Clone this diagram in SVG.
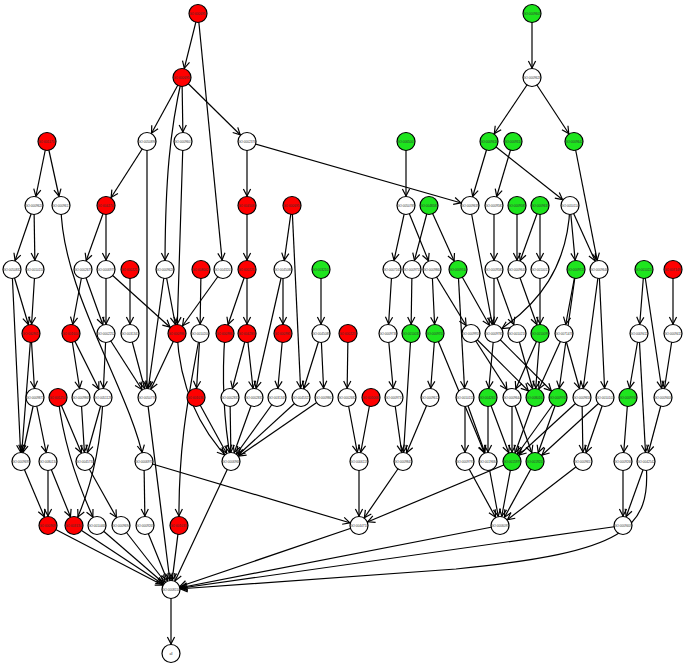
<svg xmlns="http://www.w3.org/2000/svg" width="685" height="667" viewBox="0 0 685 667">
<style>
.n circle{stroke:#000;stroke-width:1.2}
.w{fill:#fff}.r{fill:#f00}.g{fill:#1ee51e}
.n text{font-family:"Liberation Sans",Arial,sans-serif;font-size:3.1px;fill:#333;text-anchor:middle;dominant-baseline:central}
#edges path{fill:none;stroke:#000;stroke-width:1.2;marker-end:url(#a)}
</style>
<defs>
<marker id="a" markerUnits="userSpaceOnUse" markerWidth="10" markerHeight="10" refX="16.5" refY="0" orient="auto" overflow="visible">
<path d="M0,-3.6 L7,0 L0,3.6" fill="none" stroke="#000" stroke-width="1.2"/>
</marker>
</defs>
<rect width="685" height="667" fill="#fff"/>
<g id="edges">
<path d="M198,13.5 L182,77.5"/>
<path d="M198,13.5 L223,269.5"/>
<path d="M182,77.5 L147,141.5"/>
<path d="M182,77.5 L183,141.5"/>
<path d="M182,77.5 L247,141.5"/>
<path d="M182,77.5 C170,130 165,180 165,269.5"/>
<path d="M532,13.5 L532,77.5"/>
<path d="M532,77.5 L489,141.5"/>
<path d="M532,77.5 L574,141.5"/>
<path d="M47,141.5 L34,205.5"/>
<path d="M47,141.5 L61,205.5"/>
<path d="M147,141.5 L106,205.5"/>
<path d="M147,141.5 L147,397.5"/>
<path d="M183,141.5 L177,333.5"/>
<path d="M247,141.5 L247,205.5"/>
<path d="M247,141.5 L470,205.5"/>
<path d="M406,141.5 L406,205.5"/>
<path d="M489,141.5 L470,205.5"/>
<path d="M489,141.5 L570,205.5"/>
<path d="M513,141.5 L494,205.5"/>
<path d="M574,141.5 L599,269.5"/>
<path d="M34,205.5 L12,269.5"/>
<path d="M34,205.5 L35,269.5"/>
<path d="M61,205.5 C61,290 130,390 144,461.5"/>
<path d="M106,205.5 L83,269.5"/>
<path d="M106,205.5 L106,269.5"/>
<path d="M247,205.5 L247,269.5"/>
<path d="M292,205.5 L283,269.5"/>
<path d="M292,205.5 L301,397.5"/>
<path d="M406,205.5 L392,269.5"/>
<path d="M406,205.5 L432,269.5"/>
<path d="M429,205.5 L412,269.5"/>
<path d="M429,205.5 L458,269.5"/>
<path d="M470,205.5 L494,333.5"/>
<path d="M494,205.5 L494,269.5"/>
<path d="M517,205.5 L517,269.5"/>
<path d="M540,205.5 L517,269.5"/>
<path d="M540,205.5 L540,269.5"/>
<path d="M570,205.5 L576,269.5"/>
<path d="M570,205.5 L599,269.5"/>
<path d="M570,205.5 C568,265 540,305 494,333.5"/>
<path d="M12,269.5 L31,333.5"/>
<path d="M12,269.5 L21,461.5"/>
<path d="M35,269.5 L31,333.5"/>
<path d="M83,269.5 L71,333.5"/>
<path d="M83,269.5 L106,333.5"/>
<path d="M106,269.5 L106,333.5"/>
<path d="M106,269.5 L177,333.5"/>
<path d="M130,269.5 L130,333.5"/>
<path d="M165,269.5 L177,333.5"/>
<path d="M165,269.5 L147,397.5"/>
<path d="M201,269.5 L200,333.5"/>
<path d="M223,269.5 L177,333.5"/>
<path d="M247,269.5 L225,333.5"/>
<path d="M247,269.5 L247,333.5"/>
<path d="M283,269.5 L283,333.5"/>
<path d="M283,269.5 L254,397.5"/>
<path d="M321,269.5 L321,333.5"/>
<path d="M392,269.5 L388,333.5"/>
<path d="M412,269.5 L411,333.5"/>
<path d="M432,269.5 L435,333.5"/>
<path d="M432,269.5 L471,333.5"/>
<path d="M458,269.5 L494,333.5"/>
<path d="M458,269.5 L465,397.5"/>
<path d="M494,269.5 L494,333.5"/>
<path d="M494,269.5 L517,333.5"/>
<path d="M517,269.5 L540,333.5"/>
<path d="M540,269.5 L540,333.5"/>
<path d="M576,269.5 L564,333.5"/>
<path d="M576,269.5 L558,397.5"/>
<path d="M599,269.5 L582,397.5"/>
<path d="M599,269.5 L605,397.5"/>
<path d="M644,269.5 L639,333.5"/>
<path d="M644,269.5 L663,397.5"/>
<path d="M673,269.5 L673,333.5"/>
<path d="M31,333.5 L35,397.5"/>
<path d="M31,333.5 L21,461.5"/>
<path d="M71,333.5 L81,397.5"/>
<path d="M71,333.5 L103,397.5"/>
<path d="M106,333.5 L103,397.5"/>
<path d="M106,333.5 L147,397.5"/>
<path d="M130,333.5 L147,397.5"/>
<path d="M177,333.5 L147,397.5"/>
<path d="M177,333.5 C180,390 200,430 231,461.5"/>
<path d="M200,333.5 L196,397.5"/>
<path d="M200,333.5 C190,390 178,440 179,525.5"/>
<path d="M225,333.5 Q220,400 231,461.5"/>
<path d="M247,333.5 L230,397.5"/>
<path d="M247,333.5 L254,397.5"/>
<path d="M283,333.5 L277,397.5"/>
<path d="M321,333.5 L301,397.5"/>
<path d="M321,333.5 L324,397.5"/>
<path d="M348,333.5 L347,397.5"/>
<path d="M388,333.5 L394,397.5"/>
<path d="M411,333.5 L403,461.5"/>
<path d="M435,333.5 L430,397.5"/>
<path d="M435,333.5 L488,461.5"/>
<path d="M471,333.5 L512,397.5"/>
<path d="M471,333.5 L535,397.5"/>
<path d="M494,333.5 L488,397.5"/>
<path d="M494,333.5 L558,397.5"/>
<path d="M517,333.5 L535,397.5"/>
<path d="M540,333.5 L512,397.5"/>
<path d="M540,333.5 L535,397.5"/>
<path d="M564,333.5 L535,397.5"/>
<path d="M564,333.5 L582,397.5"/>
<path d="M639,333.5 L628,397.5"/>
<path d="M639,333.5 L646,461.5"/>
<path d="M673,333.5 L663,397.5"/>
<path d="M35,397.5 L21,461.5"/>
<path d="M35,397.5 L48,461.5"/>
<path d="M58,397.5 L85,461.5"/>
<path d="M58,397.5 Q66,462 97,525.5"/>
<path d="M81,397.5 L85,461.5"/>
<path d="M103,397.5 L85,461.5"/>
<path d="M103,397.5 Q100,470 74,525.5"/>
<path d="M147,397.5 L171,589.5"/>
<path d="M196,397.5 L231,461.5"/>
<path d="M230,397.5 L231,461.5"/>
<path d="M254,397.5 L231,461.5"/>
<path d="M277,397.5 L231,461.5"/>
<path d="M301,397.5 L231,461.5"/>
<path d="M324,397.5 L231,461.5"/>
<path d="M347,397.5 L359,461.5"/>
<path d="M371,397.5 L359,461.5"/>
<path d="M394,397.5 L403,461.5"/>
<path d="M430,397.5 L403,461.5"/>
<path d="M465,397.5 L465,461.5"/>
<path d="M465,397.5 L488,461.5"/>
<path d="M488,397.5 L488,461.5"/>
<path d="M488,397.5 L512,461.5"/>
<path d="M512,397.5 L512,461.5"/>
<path d="M512,397.5 L535,461.5"/>
<path d="M535,397.5 L512,461.5"/>
<path d="M558,397.5 L512,461.5"/>
<path d="M558,397.5 L535,461.5"/>
<path d="M582,397.5 L583,461.5"/>
<path d="M582,397.5 L512,461.5"/>
<path d="M605,397.5 L583,461.5"/>
<path d="M605,397.5 L535,461.5"/>
<path d="M628,397.5 L623,461.5"/>
<path d="M663,397.5 L646,461.5"/>
<path d="M21,461.5 L48,525.5"/>
<path d="M48,461.5 L48,525.5"/>
<path d="M48,461.5 L74,525.5"/>
<path d="M85,461.5 L121,525.5"/>
<path d="M144,461.5 L145,525.5"/>
<path d="M144,461.5 L359,525.5"/>
<path d="M231,461.5 L171,589.5"/>
<path d="M359,461.5 L359,525.5"/>
<path d="M403,461.5 L359,525.5"/>
<path d="M465,461.5 L500,525.5"/>
<path d="M488,461.5 L500,525.5"/>
<path d="M512,461.5 L500,525.5"/>
<path d="M535,461.5 L500,525.5"/>
<path d="M583,461.5 L500,525.5"/>
<path d="M512,461.5 L359,525.5"/>
<path d="M623,461.5 L623,525.5"/>
<path d="M646,461.5 L623,525.5"/>
<path d="M646,461.5 C652,530 625,552 456,569 L171,589.5"/>
<path d="M48,525.5 L171,589.5"/>
<path d="M74,525.5 L171,589.5"/>
<path d="M97,525.5 L171,589.5"/>
<path d="M121,525.5 L171,589.5"/>
<path d="M145,525.5 L171,589.5"/>
<path d="M179,525.5 L171,589.5"/>
<path d="M359,525.5 L171,589.5"/>
<path d="M500,525.5 L171,589.5"/>
<path d="M623,525.5 L171,589.5"/>
<path d="M171,589.5 L171,653.5"/>
</g>
<g id="A1" class="n"><circle class="r" cx="198" cy="13.5" r="9"/><text x="198" y="13.5">GO:0006952</text></g>
<g id="A2" class="n"><circle class="g" cx="532" cy="13.5" r="9"/><text x="532" y="13.5">GO:0009605</text></g>
<g id="B1" class="n"><circle class="r" cx="182" cy="77.5" r="9"/><text x="182" y="77.5">GO:0006950</text></g>
<g id="B2" class="n"><circle class="w" cx="532" cy="77.5" r="9"/><text x="532" y="77.5">GO:0009628</text></g>
<g id="C1" class="n"><circle class="r" cx="47" cy="141.5" r="9"/><text x="47" y="141.5">GO:0051707</text></g>
<g id="C2" class="n"><circle class="w" cx="147" cy="141.5" r="9"/><text x="147" y="141.5">GO:0050896</text></g>
<g id="C3" class="n"><circle class="w" cx="183" cy="141.5" r="9"/><text x="183" y="141.5">GO:0009607</text></g>
<g id="C4" class="n"><circle class="w" cx="247" cy="141.5" r="9"/><text x="247" y="141.5">GO:0002376</text></g>
<g id="C5" class="n"><circle class="g" cx="406" cy="141.5" r="9"/><text x="406" y="141.5">GO:0065007</text></g>
<g id="C6" class="n"><circle class="g" cx="489" cy="141.5" r="9"/><text x="489" y="141.5">GO:0009416</text></g>
<g id="C7" class="n"><circle class="g" cx="513" cy="141.5" r="9"/><text x="513" y="141.5">GO:0009314</text></g>
<g id="C8" class="n"><circle class="g" cx="574" cy="141.5" r="9"/><text x="574" y="141.5">GO:0009642</text></g>
<g id="D1" class="n"><circle class="w" cx="34" cy="205.5" r="9"/><text x="34" y="205.5">GO:0009620</text></g>
<g id="D2" class="n"><circle class="w" cx="61" cy="205.5" r="9"/><text x="61" y="205.5">GO:0009617</text></g>
<g id="D3" class="n"><circle class="r" cx="106" cy="205.5" r="9"/><text x="106" y="205.5">GO:0042742</text></g>
<g id="D4" class="n"><circle class="r" cx="247" cy="205.5" r="9"/><text x="247" y="205.5">GO:0045087</text></g>
<g id="D5" class="n"><circle class="r" cx="292" cy="205.5" r="9"/><text x="292" y="205.5">GO:0006955</text></g>
<g id="D6" class="n"><circle class="w" cx="406" cy="205.5" r="9"/><text x="406" y="205.5">GO:0050789</text></g>
<g id="D7" class="n"><circle class="g" cx="429" cy="205.5" r="9"/><text x="429" y="205.5">GO:0048583</text></g>
<g id="D8" class="n"><circle class="w" cx="470" cy="205.5" r="9"/><text x="470" y="205.5">GO:0009639</text></g>
<g id="D9" class="n"><circle class="w" cx="494" cy="205.5" r="9"/><text x="494" y="205.5">GO:0009581</text></g>
<g id="D10" class="n"><circle class="g" cx="517" cy="205.5" r="9"/><text x="517" y="205.5">GO:0009585</text></g>
<g id="D11" class="n"><circle class="g" cx="540" cy="205.5" r="9"/><text x="540" y="205.5">GO:0009637</text></g>
<g id="D12" class="n"><circle class="w" cx="570" cy="205.5" r="9"/><text x="570" y="205.5">GO:0010114</text></g>
<g id="E1" class="n"><circle class="w" cx="12" cy="269.5" r="9"/><text x="12" y="269.5">GO:0050832</text></g>
<g id="E2" class="n"><circle class="w" cx="35" cy="269.5" r="9"/><text x="35" y="269.5">GO:0010150</text></g>
<g id="E3" class="n"><circle class="w" cx="83" cy="269.5" r="9"/><text x="83" y="269.5">GO:0002679</text></g>
<g id="E4" class="n"><circle class="w" cx="106" cy="269.5" r="9"/><text x="106" y="269.5">GO:0006979</text></g>
<g id="E5" class="n"><circle class="r" cx="130" cy="269.5" r="9"/><text x="130" y="269.5">GO:0002213</text></g>
<g id="E6" class="n"><circle class="w" cx="165" cy="269.5" r="9"/><text x="165" y="269.5">GO:0009626</text></g>
<g id="E7" class="n"><circle class="r" cx="201" cy="269.5" r="9"/><text x="201" y="269.5">GO:0080027</text></g>
<g id="E8" class="n"><circle class="w" cx="223" cy="269.5" r="9"/><text x="223" y="269.5">GO:0043207</text></g>
<g id="E9" class="n"><circle class="r" cx="247" cy="269.5" r="9"/><text x="247" y="269.5">GO:0002218</text></g>
<g id="E10" class="n"><circle class="w" cx="283" cy="269.5" r="9"/><text x="283" y="269.5">GO:0045088</text></g>
<g id="E11" class="n"><circle class="g" cx="321" cy="269.5" r="9"/><text x="321" y="269.5">GO:0032101</text></g>
<g id="E12" class="n"><circle class="w" cx="392" cy="269.5" r="9"/><text x="392" y="269.5">GO:0007165</text></g>
<g id="E13" class="n"><circle class="w" cx="412" cy="269.5" r="9"/><text x="412" y="269.5">GO:0009755</text></g>
<g id="E14" class="n"><circle class="w" cx="432" cy="269.5" r="9"/><text x="432" y="269.5">GO:0009860</text></g>
<g id="E15" class="n"><circle class="g" cx="458" cy="269.5" r="9"/><text x="458" y="269.5">GO:0009744</text></g>
<g id="E16" class="n"><circle class="w" cx="494" cy="269.5" r="9"/><text x="494" y="269.5">GO:0009583</text></g>
<g id="E17" class="n"><circle class="w" cx="517" cy="269.5" r="9"/><text x="517" y="269.5">GO:0009640</text></g>
<g id="E18" class="n"><circle class="w" cx="540" cy="269.5" r="9"/><text x="540" y="269.5">GO:0010017</text></g>
<g id="E19" class="n"><circle class="g" cx="576" cy="269.5" r="9"/><text x="576" y="269.5">GO:0009725</text></g>
<g id="E20" class="n"><circle class="w" cx="599" cy="269.5" r="9"/><text x="599" y="269.5">GO:0009646</text></g>
<g id="E21" class="n"><circle class="g" cx="644" cy="269.5" r="9"/><text x="644" y="269.5">GO:0010224</text></g>
<g id="E22" class="n"><circle class="r" cx="673" cy="269.5" r="9"/><text x="673" y="269.5">GO:0071491</text></g>
<g id="F1" class="n"><circle class="r" cx="31" cy="333.5" r="9"/><text x="31" y="333.5">GO:0009611</text></g>
<g id="F2" class="n"><circle class="r" cx="71" cy="333.5" r="9"/><text x="71" y="333.5">GO:0016045</text></g>
<g id="F3" class="n"><circle class="w" cx="106" cy="333.5" r="9"/><text x="106" y="333.5">GO:0002252</text></g>
<g id="F4" class="n"><circle class="w" cx="130" cy="333.5" r="9"/><text x="130" y="333.5">GO:0031347</text></g>
<g id="F5" class="n"><circle class="r" cx="177" cy="333.5" r="9"/><text x="177" y="333.5">GO:0009862</text></g>
<g id="F6" class="n"><circle class="w" cx="200" cy="333.5" r="9"/><text x="200" y="333.5">GO:0010200</text></g>
<g id="F7" class="n"><circle class="r" cx="225" cy="333.5" r="9"/><text x="225" y="333.5">GO:0009863</text></g>
<g id="F8" class="n"><circle class="r" cx="247" cy="333.5" r="9"/><text x="247" y="333.5">GO:0042830</text></g>
<g id="F9" class="n"><circle class="r" cx="283" cy="333.5" r="9"/><text x="283" y="333.5">GO:0009816</text></g>
<g id="F10" class="n"><circle class="w" cx="321" cy="333.5" r="9"/><text x="321" y="333.5">GO:0045089</text></g>
<g id="F11" class="n"><circle class="r" cx="348" cy="333.5" r="9"/><text x="348" y="333.5">GO:0002237</text></g>
<g id="F12" class="n"><circle class="w" cx="388" cy="333.5" r="9"/><text x="388" y="333.5">GO:0009738</text></g>
<g id="F13" class="n"><circle class="g" cx="411" cy="333.5" r="9"/><text x="411" y="333.5">GO:0010033</text></g>
<g id="F14" class="n"><circle class="g" cx="435" cy="333.5" r="9"/><text x="435" y="333.5">GO:0009753</text></g>
<g id="F15" class="n"><circle class="w" cx="471" cy="333.5" r="9"/><text x="471" y="333.5">GO:0009959</text></g>
<g id="F16" class="n"><circle class="w" cx="494" cy="333.5" r="9"/><text x="494" y="333.5">GO:0009785</text></g>
<g id="F17" class="n"><circle class="w" cx="517" cy="333.5" r="9"/><text x="517" y="333.5">GO:0010218</text></g>
<g id="F18" class="n"><circle class="g" cx="540" cy="333.5" r="9"/><text x="540" y="333.5">GO:0010099</text></g>
<g id="F19" class="n"><circle class="w" cx="564" cy="333.5" r="9"/><text x="564" y="333.5">GO:0071478</text></g>
<g id="F20" class="n"><circle class="w" cx="639" cy="333.5" r="9"/><text x="639" y="333.5">GO:0009411</text></g>
<g id="F21" class="n"><circle class="w" cx="673" cy="333.5" r="9"/><text x="673" y="333.5">GO:0009415</text></g>
<g id="G1" class="n"><circle class="w" cx="35" cy="397.5" r="9"/><text x="35" y="397.5">GO:0009873</text></g>
<g id="G2" class="n"><circle class="r" cx="58" cy="397.5" r="9"/><text x="58" y="397.5">GO:0052542</text></g>
<g id="G3" class="n"><circle class="w" cx="81" cy="397.5" r="9"/><text x="81" y="397.5">GO:0009869</text></g>
<g id="G4" class="n"><circle class="w" cx="103" cy="397.5" r="9"/><text x="103" y="397.5">GO:0051128</text></g>
<g id="G5" class="n"><circle class="w" cx="147" cy="397.5" r="9"/><text x="147" y="397.5">GO:0050776</text></g>
<g id="G6" class="n"><circle class="r" cx="196" cy="397.5" r="9"/><text x="196" y="397.5">GO:0010363</text></g>
<g id="G7" class="n"><circle class="w" cx="230" cy="397.5" r="9"/><text x="230" y="397.5">GO:0002831</text></g>
<g id="G8" class="n"><circle class="w" cx="254" cy="397.5" r="9"/><text x="254" y="397.5">GO:0002833</text></g>
<g id="G9" class="n"><circle class="w" cx="277" cy="397.5" r="9"/><text x="277" y="397.5">GO:0031349</text></g>
<g id="G10" class="n"><circle class="w" cx="301" cy="397.5" r="9"/><text x="301" y="397.5">GO:0045321</text></g>
<g id="G11" class="n"><circle class="w" cx="324" cy="397.5" r="9"/><text x="324" y="397.5">GO:0009867</text></g>
<g id="G12" class="n"><circle class="w" cx="347" cy="397.5" r="9"/><text x="347" y="397.5">GO:0002682</text></g>
<g id="G13" class="n"><circle class="r" cx="371" cy="397.5" r="9"/><text x="371" y="397.5">GO:0050688</text></g>
<g id="G14" class="n"><circle class="w" cx="394" cy="397.5" r="9"/><text x="394" y="397.5">GO:0009737</text></g>
<g id="G15" class="n"><circle class="w" cx="430" cy="397.5" r="9"/><text x="430" y="397.5">GO:0009612</text></g>
<g id="G16" class="n"><circle class="w" cx="465" cy="397.5" r="9"/><text x="465" y="397.5">GO:0010155</text></g>
<g id="G17" class="n"><circle class="g" cx="488" cy="397.5" r="9"/><text x="488" y="397.5">GO:0042651</text></g>
<g id="G18" class="n"><circle class="w" cx="512" cy="397.5" r="9"/><text x="512" y="397.5">GO:0009644</text></g>
<g id="G19" class="n"><circle class="g" cx="535" cy="397.5" r="9"/><text x="535" y="397.5">GO:0080167</text></g>
<g id="G20" class="n"><circle class="g" cx="558" cy="397.5" r="9"/><text x="558" y="397.5">GO:0009765</text></g>
<g id="G21" class="n"><circle class="w" cx="582" cy="397.5" r="9"/><text x="582" y="397.5">GO:0009658</text></g>
<g id="G22" class="n"><circle class="w" cx="605" cy="397.5" r="9"/><text x="605" y="397.5">GO:0010103</text></g>
<g id="G23" class="n"><circle class="g" cx="628" cy="397.5" r="9"/><text x="628" y="397.5">GO:0009768</text></g>
<g id="G24" class="n"><circle class="w" cx="663" cy="397.5" r="9"/><text x="663" y="397.5">GO:0009408</text></g>
<g id="H1" class="n"><circle class="w" cx="21" cy="461.5" r="9"/><text x="21" y="461.5">GO:0009695</text></g>
<g id="H2" class="n"><circle class="w" cx="48" cy="461.5" r="9"/><text x="48" y="461.5">GO:0080134</text></g>
<g id="H3" class="n"><circle class="w" cx="85" cy="461.5" r="9"/><text x="85" y="461.5">GO:0045730</text></g>
<g id="H4" class="n"><circle class="w" cx="144" cy="461.5" r="9"/><text x="144" y="461.5">GO:0006970</text></g>
<g id="H5" class="n"><circle class="w" cx="231" cy="461.5" r="9"/><text x="231" y="461.5">GO:0006968</text></g>
<g id="H6" class="n"><circle class="w" cx="359" cy="461.5" r="9"/><text x="359" y="461.5">GO:0006119</text></g>
<g id="H7" class="n"><circle class="w" cx="403" cy="461.5" r="9"/><text x="403" y="461.5">GO:0009845</text></g>
<g id="H8" class="n"><circle class="w" cx="465" cy="461.5" r="9"/><text x="465" y="461.5">GO:0009791</text></g>
<g id="H9" class="n"><circle class="w" cx="488" cy="461.5" r="9"/><text x="488" y="461.5">GO:0019684</text></g>
<g id="H10" class="n"><circle class="g" cx="512" cy="461.5" r="9"/><text x="512" y="461.5">GO:0015979</text></g>
<g id="H11" class="n"><circle class="g" cx="535" cy="461.5" r="9"/><text x="535" y="461.5">GO:0019253</text></g>
<g id="H12" class="n"><circle class="w" cx="583" cy="461.5" r="9"/><text x="583" y="461.5">GO:0009657</text></g>
<g id="H13" class="n"><circle class="w" cx="623" cy="461.5" r="9"/><text x="623" y="461.5">GO:0009266</text></g>
<g id="H14" class="n"><circle class="w" cx="646" cy="461.5" r="9"/><text x="646" y="461.5">GO:0042542</text></g>
<g id="I1" class="n"><circle class="r" cx="48" cy="525.5" r="9"/><text x="48" y="525.5">GO:0009693</text></g>
<g id="I2" class="n"><circle class="r" cx="74" cy="525.5" r="9"/><text x="74" y="525.5">GO:0031348</text></g>
<g id="I3" class="n"><circle class="w" cx="97" cy="525.5" r="9"/><text x="97" y="525.5">GO:0010468</text></g>
<g id="I4" class="n"><circle class="w" cx="121" cy="525.5" r="9"/><text x="121" y="525.5">GO:0009694</text></g>
<g id="I5" class="n"><circle class="w" cx="145" cy="525.5" r="9"/><text x="145" y="525.5">GO:0009269</text></g>
<g id="I6" class="n"><circle class="r" cx="179" cy="525.5" r="9"/><text x="179" y="525.5">GO:0010337</text></g>
<g id="I7" class="n"><circle class="w" cx="359" cy="525.5" r="9"/><text x="359" y="525.5">GO:0044710</text></g>
<g id="I8" class="n"><circle class="w" cx="500" cy="525.5" r="9"/><text x="500" y="525.5">GO:0006091</text></g>
<g id="I9" class="n"><circle class="w" cx="623" cy="525.5" r="9"/><text x="623" y="525.5">GO:0009409</text></g>
<g id="R" class="n"><circle class="w" cx="171" cy="589.5" r="9"/><text x="171" y="589.5">GO:0008150</text></g>
<g id="ALL" class="n"><circle class="w" cx="171" cy="653.5" r="9"/><text x="171" y="653.5">all</text></g>
</svg>
